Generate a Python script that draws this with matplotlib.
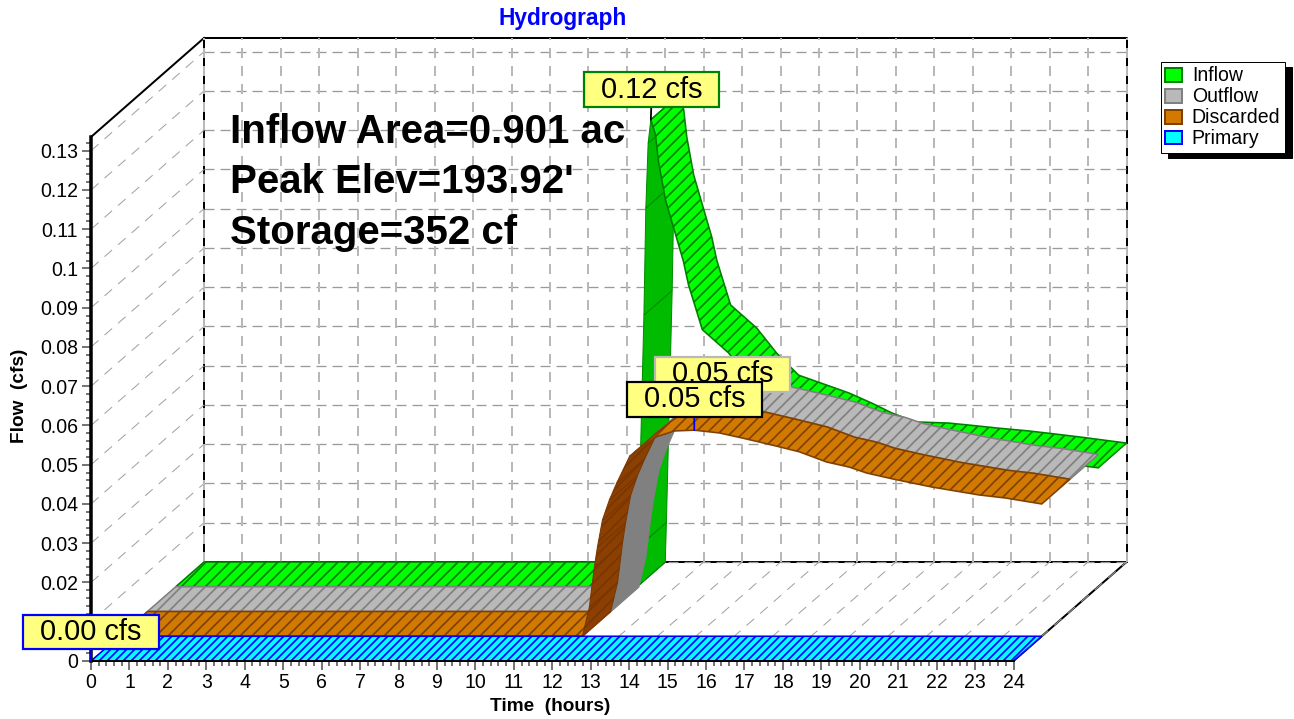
import matplotlib
matplotlib.use('Agg')
import matplotlib.pyplot as plt
from matplotlib.patches import Polygon, Patch
from matplotlib.path import Path

plt.rcParams['font.family'] = ['Liberation Sans', 'DejaVu Sans']
plt.rcParams['lines.scale_dashes'] = False
plt.rcParams['hatch.linewidth'] = 1.7

# values
inflow_t = [0, 12.0, 12.03, 12.18, 12.23, 12.29, 12.36, 12.48, 12.56, 12.74, 13.21, 13.34,
            13.70, 14.38, 14.90, 15.47, 16.77, 17.37, 17.89, 18.51, 19.37, 19.89, 20.67,
            21.45, 22.15, 22.83, 24]
inflow_q = [0, 0, .0101, .0692, .0965, .113, .119, .1152, .1083, .0986, .0828, .0769,
            .0655, .0596, .0532, .0476, .0431, .0405, .038, .0357, .0354, .0349, .0341,
            .0334, .0326, .0318, .0303]
routed_t = [0, 12.05, 12.23, 12.36, 12.44, 12.57, 12.75, 12.94, 13.27, 13.58, 13.97, 14.44,
            14.96, 15.61, 16.21, 16.99, 17.69, 18.40, 18.99, 19.44, 20.11, 21.15, 22.37,
            23.07, 24]
routed_q = [0, 0, .0074, .0176, .0227, .0296, .0347, .039, .0457, .0482, .0508, .0523,
            .0525, .0518, .0505, .0487, .047, .0444, .0431, .0416, .0401, .038, .036,
            .0352, .0337]
primary_t = [0, 24]
primary_q = [0, 0]

series_names = ['Primary', 'Discarded', 'Outflow', 'Inflow']
x_ticks = list(range(25))
y_ticks = [i / 100 for i in range(14)]
# 0.01 sits behind the 0.00 cfs box in the picture, so it shows no label
y_labels = ['0', '', '0.02', '0.03', '0.04', '0.05', '0.06', '0.07', '0.08', '0.09', '0.1',
            '0.11', '0.12', '0.13']

W, H = 1294, 719
X0, X1, Y0, YTOP = 91, 1013.5, 661, 137
YMAX = .1335
DX = 113 / ((X1 - X0) / 24)  # depth of the box, in axis units
DY = 99 / ((Y0 - YTOP) / YMAX)
LAYER_DX, LAYER_DY = DX / 4, DY / 4


def fx(px):
    return px / W


def fy(py):
    return 1 - py / H


def wide_box(x0, y0, width, height, mutation_size):
    # label boxes are much wider than they are tall
    px, py = .58 * mutation_size, .12 * mutation_size
    return Path([(x0 - px, y0 - py), (x0 + width + px, y0 - py), (x0 + width + px, y0 + height + py),
                 (x0 - px, y0 + height + py), (x0 - px, y0 - py)], closed=True)


def ribbon(ax, t, q, d, face, edge, dark, hatch, z):
    a = (d * LAYER_DX, d * LAYER_DY)
    b = ((d + 1) * LAYER_DX, (d + 1) * LAYER_DY)
    limit = DY / DX
    i = 0
    while i < len(t) - 1:
        steep = (q[i + 1] - q[i]) / (t[i + 1] - t[i]) > limit
        j = i + 1
        while j < len(t) - 1 and ((q[j + 1] - q[j]) / (t[j + 1] - t[j]) > limit) == steep:
            j += 1
        if steep:
            # the side facing away from the light, one quad per step
            for k in range(i, j):
                pts = [(t[k] + a[0], q[k] + a[1]), (t[k + 1] + a[0], q[k + 1] + a[1]),
                       (t[k + 1] + b[0], q[k + 1] + b[1]), (t[k] + b[0], q[k] + b[1])]
                ax.add_patch(Polygon(pts, closed=True, facecolor=dark[0], edgecolor=dark[1], lw=1,
                                     hatch=dark[2], clip_on=False, zorder=z))
        else:
            front = [(t[k] + a[0], q[k] + a[1]) for k in range(i, j + 1)]
            back = [(t[k] + b[0], q[k] + b[1]) for k in range(j, i - 1, -1)]
            ax.add_patch(Polygon(front + back, closed=True, facecolor=face, edgecolor=edge, lw=1.6,
                                 hatch=hatch, clip_on=False, zorder=z))
        i = j


def peak_label(ax, t, q, d, text, edge, line, offset, z):
    ax.annotate(text, xy=(t + d * LAYER_DX, q + d * LAYER_DY), xytext=offset, textcoords='offset points',
                ha='center', va='center', fontsize=29, color='black', zorder=z, annotation_clip=False,
                bbox=dict(boxstyle=wide_box, facecolor='#ffff80', edgecolor=edge, lw=2.2),
                arrowprops=dict(arrowstyle='-', color=line, lw=1.8, shrinkA=0, shrinkB=0))


def main():
    fig = plt.figure(figsize=(W / 72, H / 72), dpi=72)
    ax = fig.add_axes([fx(X0), fy(Y0), (X1 - X0) / W, (Y0 - YTOP) / H])
    ax.set_xlim(0, 24)
    ax.set_ylim(0, YMAX)
    ax.patch.set_visible(False)

    # back wall, left wall and floor
    grid_h = dict(color='#9a9a9a', lw=1.3, ls=(0, (10, 6)), clip_on=False, zorder=1.2)
    grid_v = dict(color='#b8b8b8', lw=2, ls=(0, (10, 8)), clip_on=False, zorder=1.3)
    grid_d = dict(color='#a0a0a0', lw=1, ls=(0, (10, 8)), clip_on=False, zorder=1.1)
    wall = dict(color='black', lw=2, clip_on=False, zorder=1)
    ax.plot([DX, 24 + DX, 24 + DX, DX, DX], [DY, DY, YMAX + DY, YMAX + DY, DY], **wall)
    ax.plot([0, DX], [YMAX, YMAX + DY], **wall)
    ax.plot([24, 24 + DX], [0, DY], **wall)
    for v in y_ticks:
        ax.plot([DX, 24 + DX], [v + DY, v + DY], **grid_h)
        ax.plot([0, DX], [v, v + DY], **grid_d)
    for v in x_ticks:
        ax.plot([v + DX, v + DX], [DY, YMAX + DY], **grid_v)
        if v > 0:
            ax.plot([v, v + DX], [0, DY], **grid_d)

    ribbon(ax, inflow_t, inflow_q, 3, '#00ff00', '#008000', ('#00bb00', '#008c00', None), '//', 3)
    ribbon(ax, routed_t, routed_q, 2, '#b9b9b9', '#808080', ('#808080', '#808080', None), '//', 4)
    ribbon(ax, routed_t, routed_q, 1, '#d27a00', '#804000', ('#8b3f00', '#7a3600', '//'), '//', 5)
    ribbon(ax, primary_t, primary_q, 0, '#00ffff', '#0000ff', ('#00bbbb', '#0000ff', None), '///', 6)

    for side in ['top', 'right']:
        ax.spines[side].set_visible(False)
    ax.spines['left'].set_linewidth(3.5)
    ax.spines['bottom'].set_linewidth(2)
    ax.spines['left'].set_zorder(7)
    ax.spines['bottom'].set_zorder(7)

    ax.set_xticks(x_ticks)
    ax.set_xticks([i / 5 for i in range(121)], minor=True)
    ax.set_yticks(y_ticks)
    ax.set_yticklabels(y_labels)
    ax.set_yticks([i / 500 for i in range(67)], minor=True)
    ax.tick_params(axis='both', which='major', length=9, width=1.6, color='#555555', labelsize=19.5)
    ax.tick_params(axis='x', which='major', pad=3)
    ax.tick_params(axis='y', which='major', pad=4)
    ax.tick_params(axis='both', which='minor', length=5, width=1.6, color='#555555')

    ax.set_xlabel('Time  (hours)', fontsize=19, fontweight='bold')
    ax.set_ylabel('Flow  (cfs)', fontsize=19, fontweight='bold')
    ax.xaxis.set_label_coords(.498, -.07)
    ax.yaxis.set_label_coords(-.068, .506)

    fig.text(fx(563), fy(19), 'Hydrograph', color='#0000ff', fontsize=22.8, fontweight='bold',
             ha='center', va='center')
    for py, line in zip([143, 193, 244], ['Inflow Area=0.901 ac', "Peak Elev=193.92'", 'Storage=352 cf']):
        fig.text(fx(230), fy(py), line, fontsize=40.3, fontweight='bold', va='baseline', zorder=8)

    peak_label(ax, 12.36, .119, 3, '0.12 cfs', '#008000', 'black', (1, 30), 9)
    peak_label(ax, 14.96, .0525, 2, '0.05 cfs', '#b9b9b9', '#808080', (0, 31), 10)
    peak_label(ax, 14.96, .0525, 1, '0.05 cfs', 'black', '#0000ff', (0, 31), 11)
    peak_label(ax, 0, 0, 0, '0.00 cfs', '#0000ff', '#0000ff', (0, 29), 12)

    handles = [Patch(facecolor='#00ff00', edgecolor='#008000', lw=2),
               Patch(facecolor='#b9b9b9', edgecolor='#808080', lw=2),
               Patch(facecolor='#d27a00', edgecolor='#804000', lw=2),
               Patch(facecolor='#00ffff', edgecolor='#0000ff', lw=2)]
    fig.legend(handles, series_names[::-1], loc='upper left', bbox_to_anchor=(fx(1161), fy(62)),
               fontsize=19.5, fancybox=False, edgecolor='black', framealpha=1, borderaxespad=0,
               handlelength=.85, handleheight=.72, handletextpad=.5, labelspacing=.1, borderpad=.23,
               shadow=dict(ox=7, oy=-5, color='black', alpha=1, shade=1))

    fig.savefig('out.png', dpi=72)


if __name__ == '__main__':
    main()
